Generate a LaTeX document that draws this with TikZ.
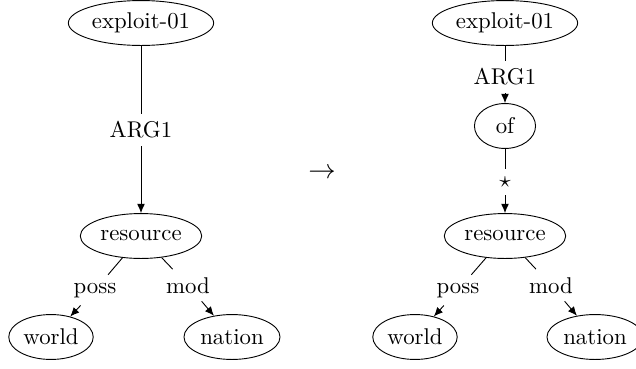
\documentclass[tikz,border=0pt]{standalone}
\usetikzlibrary{shapes.geometric,arrows.meta}
\begin{document}
\begin{tikzpicture}[x=0.4386pt,y=-0.4386pt,
  amr/.style={draw, ellipse, inner xsep=1pt, inner ysep=2.5pt, minimum height=19.7pt},
  rel/.style={inner sep=0.333em},
  relb/.style={inner sep=0.333em, anchor=base},
  arr/.style={-{Latex[length=4pt,width=3.4pt]}}]
\useasboundingbox (0,0) rectangle (636,369);
% left tree
\node[amr] (e1) at (141,23) {exploit-01};
\node[rel] (a1) at (141,130) {ARG1};
\node[amr] (r1) at (141,236) {resource};
\node[relb] (p1) at (95,293) {poss};
\node[relb] (m1) at (188,293) {mod};
\node[amr] (w1) at (51,337) {world};
\node[amr] (n1) at (232,337) {nation};
\draw (e1) -- (a1);
\draw[arr] (a1) -- (r1);
\draw (r1) -- (p1);
\draw[arr] (p1) -- (w1);
\draw (r1) -- (m1);
\draw[arr] (m1) -- (n1);
% transformation arrow
\node[font=\fontsize{12}{14}\selectfont] (t) at (322,173) {$\rightarrow$};
% right tree
\node[amr] (e2) at (505,23) {exploit-01};
\node[rel] (a2) at (505,77) {ARG1};
\node[amr, minimum width=26.8pt] (o2) at (505,126) {of};
\node[rel] (s2) at (505,182) {$\star$};
\node[amr] (r2) at (505,236) {resource};
\node[relb] (p2) at (458,293) {poss};
\node[relb] (m2) at (551,293) {mod};
\node[amr] (w2) at (415,337) {world};
\node[amr] (n2) at (595,337) {nation};
\draw (e2) -- (a2);
\draw[arr] (a2) -- (o2);
\draw (o2) -- (s2);
\draw[arr] (s2) -- (r2);
\draw (r2) -- (p2);
\draw[arr] (p2) -- (w2);
\draw (r2) -- (m2);
\draw[arr] (m2) -- (n2);
\end{tikzpicture}
\end{document}
